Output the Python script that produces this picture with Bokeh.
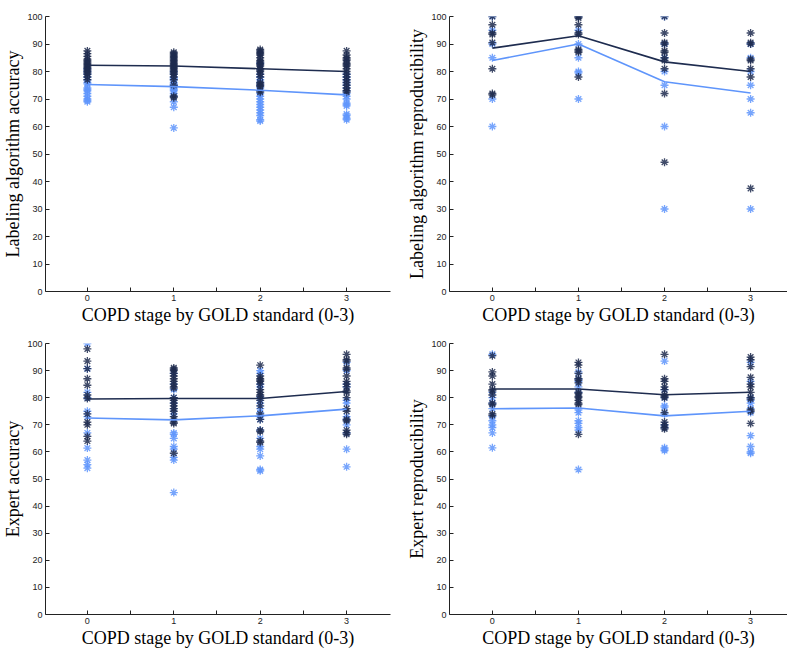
from bokeh.plotting import figure
from bokeh.layouts import column, row
from bokeh.models import FixedTicker, Range1d
from bokeh.embed import file_html
from bokeh.resources import INLINE

stages = [0, 1, 2, 3]
x_minor = [0.5, 1.5, 2.5]
y_ticks = list(range(0, 101, 10))
x_title = "COPD stage by GOLD standard (0-3)"

DARK = "#1e2c4f"
LIGHT = "#5f95fb"

# ---- Labeling algorithm accuracy ----
alg_acc_dark = [
    [87.5, 86.5, 85.5, 84.5, 84, 83.5, 83, 82.5, 82, 81.5, 81, 80.5, 80, 79.5, 79, 78, 77],
    [87, 86.5, 86, 85.5, 85, 84.5, 84, 83.5, 83, 82.5, 82, 81.5, 81, 80.5, 80, 79.5, 79, 78, 77, 75, 71, 70.5],
    [88, 87.5, 87, 86.5, 86, 85, 84, 83.5, 83, 82.5, 82, 81, 80.5, 80, 79, 78, 76, 75.5, 75, 74.5, 73, 72.5],
    [87.5, 86, 85, 84.5, 84, 83, 82.5, 82, 81, 80, 79, 78, 77, 76, 75, 74, 73, 72.5],
]
alg_acc_light = [
    [81, 80, 79, 78, 77, 76, 75.5, 74, 73.5, 73, 72, 71, 70, 69.5, 69],
    [80, 79, 78, 77.5, 77, 76, 75.5, 75, 74.5, 74, 73.5, 73, 72, 71, 69, 67, 59.5],
    [83, 81, 79, 78, 77, 76, 75, 74, 72, 71, 70, 69, 68, 67, 66, 65, 64, 62.5, 62],
    [79, 78, 77, 76, 75, 74, 73, 72, 71, 70, 68.5, 68, 67.5, 64.5, 64, 63, 62.5],
]
alg_acc_dark_mean = [82.3, 82.0, 81.0, 80.0]
alg_acc_light_mean = [75.3, 74.5, 73.2, 71.5]

# ---- Labeling algorithm reproducibility ----
alg_rep_dark = [
    [100, 97, 94, 93.5, 90.5, 81, 72, 71.5],
    [100, 100, 99.5, 97, 94, 93.5, 88, 87.5, 87, 78],
    [100, 94, 90.5, 90, 87.5, 87, 85, 84, 81, 72, 47],
    [94, 90.5, 90, 84.5, 84, 81, 78, 37.5],
]
alg_rep_light = [
    [100, 95, 90, 85, 70, 60],
    [100, 95, 90, 85, 80, 79.5, 70],
    [100, 90, 85, 80, 75, 60, 30],
    [90, 85, 80, 75, 70, 65, 30],
]
alg_rep_dark_mean = [88.5, 93.0, 83.5, 80.0]
alg_rep_light_mean = [84.0, 90.0, 76.3, 72.2]

# ---- Expert accuracy ----
exp_acc_dark = [
    [98, 93.5, 90.7, 87, 84.6, 81, 79.7, 74, 71, 70, 65.7, 64],
    [91, 90.5, 90, 89, 88, 87, 86, 85, 84, 83.5, 80, 79, 78, 77, 76, 75, 73, 72, 71, 70.5, 59.5],
    [92, 88, 87, 86.5, 86, 85, 83, 82, 81, 80.5, 79, 77, 74, 72, 68, 67.5, 64, 63.5],
    [96, 94, 93.5, 91, 90.5, 88, 86, 85, 84, 82.5, 82, 80, 76, 75, 72, 71.5, 68, 67, 66.5],
]
exp_acc_light = [
    [100, 90.7, 82, 80, 75, 73, 67, 61.4, 57, 55.3, 54],
    [89, 85, 83, 80, 78, 76, 74, 67, 66.5, 65, 62, 61, 58, 57, 45],
    [90, 89, 85, 84, 80, 78, 76, 74.5, 73, 72, 68, 65, 62, 61, 58.5, 53.5, 53],
    [93, 90, 85, 84, 79, 78, 73, 72, 70, 67, 61, 54.5],
]
exp_acc_dark_mean = [79.5, 79.7, 79.7, 82.3]
exp_acc_light_mean = [72.5, 71.8, 73.3, 75.8]

# ---- Expert reproducibility ----
exp_rep_dark = [
    [95.5, 89.5, 88, 85, 83, 82.5, 81, 78, 77.5, 74, 73.5],
    [93, 92, 89, 87, 86.5, 85.5, 82, 81.5, 80.5, 80, 79, 78, 77.5, 66.5],
    [96, 87, 86, 84, 83, 81, 80.5, 80, 74.5, 71, 70, 69, 68.5],
    [95, 94, 91.5, 87.5, 85, 84, 82, 80, 79.5, 75.5, 75, 70.5],
]
exp_rep_light = [
    [96, 82, 80, 78, 76, 73, 71.5, 70, 69, 67, 61.5],
    [89.5, 87, 86, 84, 82, 75.5, 74.5, 71.5, 70.5, 69, 68, 53.5],
    [93.5, 83, 80, 77, 76.5, 74, 70, 69, 61.5, 61, 60.5],
    [93, 86, 80, 79, 78, 76, 74.5, 66, 62, 60, 59.5],
]
exp_rep_dark_mean = [83.2, 83.2, 81.1, 82.0]
exp_rep_light_mean = [75.9, 76.2, 73.3, 75.0]


def make_panel(ylabel, dark, light, dark_mean, light_mean,
               width, height, x_start, x_end, b_left, b_right, b_top, b_bottom):
    p = figure(width=width, height=height, output_backend="svg", toolbar_location=None,
               x_range=Range1d(x_start, x_end), y_range=Range1d(0, 100),
               min_border_left=b_left, min_border_right=b_right,
               min_border_top=b_top, min_border_bottom=b_bottom)
    p.outline_line_color = None
    p.grid.visible = False
    p.background_fill_color = "white"
    p.border_fill_color = "white"

    for vals, col in ((light, LIGHT), (dark, DARK)):
        xs = [s for s, v in zip(stages, vals) for _ in v]
        ys = [y for v in vals for y in v]
        p.scatter(xs, ys, marker="asterisk", size=8, line_color=col,
                  line_width=1.3, line_alpha=0.85)
    p.line(stages, light_mean, line_color=LIGHT, line_width=1.6)
    p.line(stages, dark_mean, line_color=DARK, line_width=1.6)

    p.xaxis.ticker = FixedTicker(ticks=stages, minor_ticks=x_minor)
    p.yaxis.ticker = FixedTicker(ticks=y_ticks)
    for ax in (p.xaxis[0], p.yaxis[0]):
        ax.axis_line_color = "#222222"
        ax.axis_line_width = 1
        ax.major_tick_line_color = "#222222"
        ax.minor_tick_line_color = "#222222"
        ax.major_tick_in = 4
        ax.major_tick_out = 0
        ax.minor_tick_in = 4 if ax is p.xaxis[0] else 0
        ax.minor_tick_out = 0
        ax.major_label_text_font = "Liberation Sans"
        ax.major_label_text_font_size = "9px"
        ax.major_label_text_color = "#222222"
        ax.major_label_standoff = 3
        ax.axis_label_text_font = "Liberation Serif"
        ax.axis_label_text_font_style = "normal"
        ax.axis_label_text_font_size = "18px"
        ax.axis_label_text_color = "#000000"
        ax.axis_label_standoff = 1
    p.xaxis.axis_label = x_title
    p.yaxis.axis_label = ylabel
    return p


p1 = make_panel("Labeling algorithm accuracy", alg_acc_dark, alg_acc_light,
                alg_acc_dark_mean, alg_acc_light_mean,
                404, 327, -0.4846, 3.508, 44, 14, 16, 36)
p2 = make_panel("Labeling algorithm reproducibility", alg_rep_dark, alg_rep_light,
                alg_rep_dark_mean, alg_rep_light_mean,
                383, 327, -0.498, 3.4286, 44, 0, 16, 36)
p3 = make_panel("Expert accuracy", exp_acc_dark, exp_acc_light,
                exp_acc_dark_mean, exp_acc_light_mean,
                404, 323, -0.4846, 3.508, 44, 14, 16, 34)
p4 = make_panel("Expert reproducibility", exp_rep_dark, exp_rep_light,
                exp_rep_dark_mean, exp_rep_light_mean,
                383, 323, -0.498, 3.4286, 44, 0, 16, 34)

layout = column(row(p1, p2), row(p3, p4))
open("out.html", "w").write(file_html(layout, INLINE))
